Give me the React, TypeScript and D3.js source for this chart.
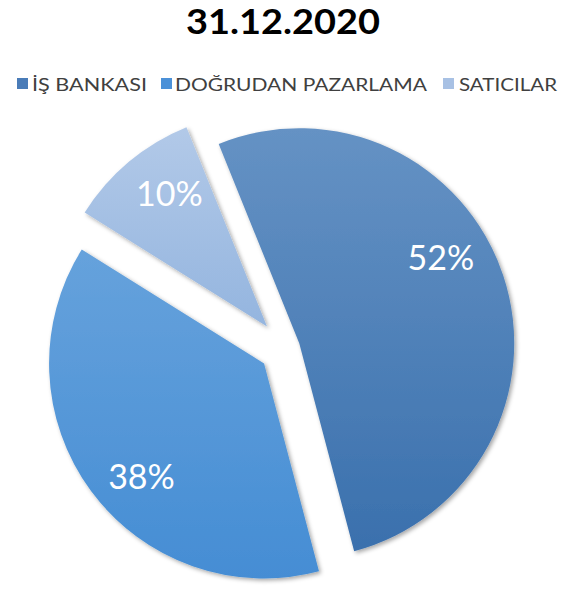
import React from "react";
import * as d3 from "d3";

const title = "31.12.2020";
const categories = ["İŞ BANKASI", "DOĞRUDAN PAZARLAMA", "SATICILAR"];
const values = [52, 38, 10];
const percentLabels = ["52%", "38%", "10%"];

const W = 577;
const H = 589;
const CX = 285;
const CY = 348;
const R = 215;
const START_DEG = -22;
const explode = [15, 26, 28];
const labelRadius = 166;
const labelShiftDeg = [-13, -6, 4];
const grads = [
  ["#6592c4", "#3a70ad"],
  ["#66a2dc", "#458dd4"],
  ["#b2c9e8", "#94b5df"],
];
const legendColors = ["#4a7cb8", "#4b91d8", "#a8c1e4"];
const legendSquareX = [17, 161, 443];
const legendTextX = [32, 175, 459];
const legendTextW = [115, 252, 98];

export default function App() {
  const start = (START_DEG * Math.PI) / 180;
  const pie = d3
    .pie<number>()
    .sort(null)
    .value((d) => d)
    .startAngle(start)
    .endAngle(start + 2 * Math.PI);
  const arcs = pie(values);
  const arcGen = d3.arc<d3.PieArcDatum<number>>().innerRadius(0).outerRadius(R);

  return (
    <svg
      width={W}
      height={H}
      viewBox={`0 0 ${W} ${H}`}
      style={{ position: "absolute", left: 0, top: 0, background: "#fff" }}
    >
      <defs>
        {grads.map((g, i) => (
          <linearGradient key={i} id={`g${i}`} x1="0" y1="0" x2="0" y2="1">
            <stop offset="0" stopColor={g[0]} />
            <stop offset="1" stopColor={g[1]} />
          </linearGradient>
        ))}
        <filter id="sh" x="-20%" y="-20%" width="140%" height="140%">
          <feDropShadow dx="2" dy="2" stdDeviation="2" floodColor="#000" floodOpacity="0.35" />
        </filter>
      </defs>
      <text
        x={283}
        y={34}
        textAnchor="middle"
        fontFamily="Lato, 'Open Sans', sans-serif"
        fontWeight="bold"
        fontSize={34}
        textLength={194}
        lengthAdjust="spacingAndGlyphs"
        fill="#000"
      >
        {title}
      </text>
      {categories.map((c, i) => (
        <g key={c}>
          <rect x={legendSquareX[i]} y={78} width={11} height={11} fill={legendColors[i]} />
          <text
            x={legendTextX[i]}
            y={91}
            fontFamily="Lato, 'Open Sans', sans-serif"
            fontSize={18}
            fill="#404040"
            textLength={legendTextW[i]}
            lengthAdjust="spacingAndGlyphs"
          >
            {c}
          </text>
        </g>
      ))}
      {arcs.map((a, i) => {
        const mid = (a.startAngle + a.endAngle) / 2;
        const ox = CX + explode[i] * Math.sin(mid);
        const oy = CY - explode[i] * Math.cos(mid);
        const la = mid + (labelShiftDeg[i] * Math.PI) / 180;
        const lx = ox + labelRadius * Math.sin(la);
        const ly = oy - labelRadius * Math.cos(la);
        return (
          <g key={i}>
            <path
              d={arcGen(a) || ""}
              transform={`translate(${ox},${oy})`}
              fill={`url(#g${i})`}
              filter="url(#sh)"
            />
            <text
              x={lx}
              y={ly}
              textAnchor="middle"
              dominantBaseline="central"
              fontFamily="Lato, 'Open Sans', sans-serif"
              fontSize={34}
              fill="#fff"
            >
              {percentLabels[i]}
            </text>
          </g>
        );
      })}
    </svg>
  );
}
